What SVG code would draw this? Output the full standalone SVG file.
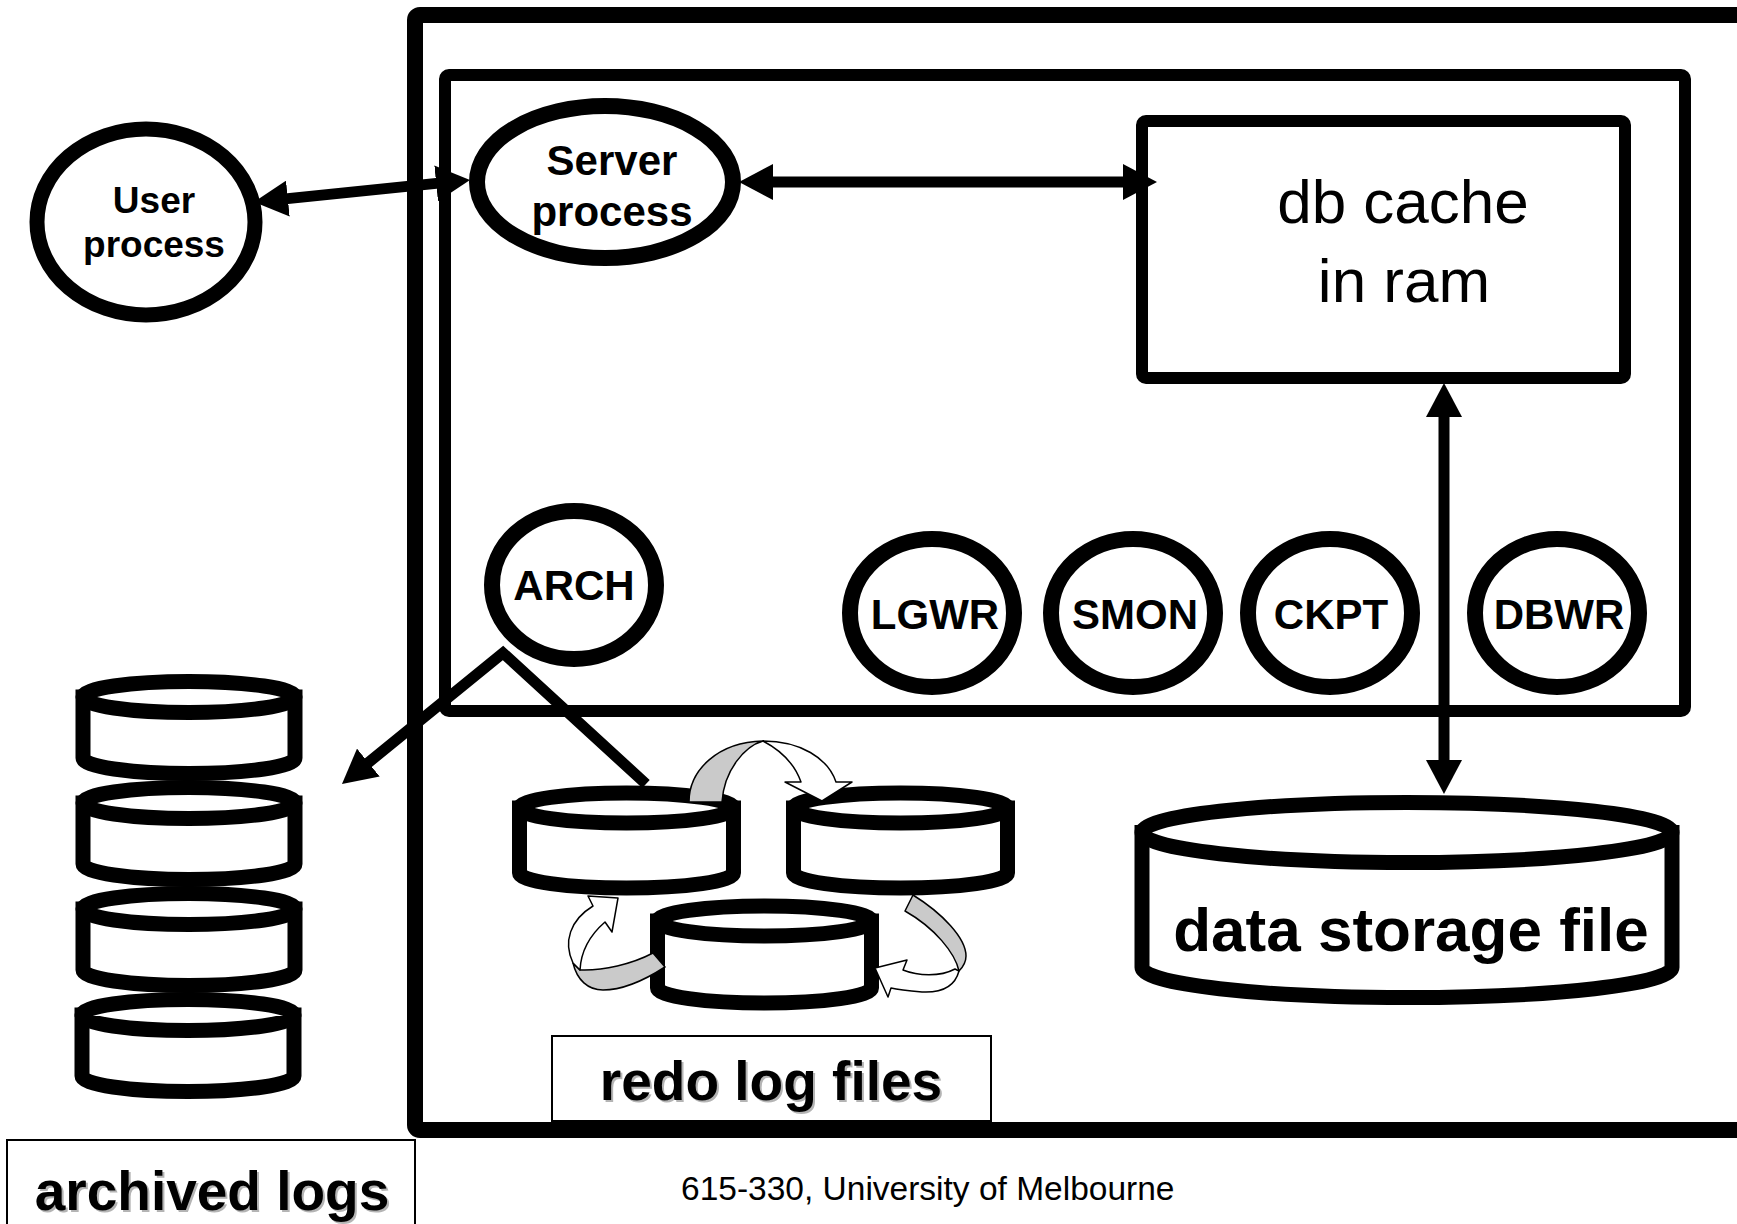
<svg xmlns="http://www.w3.org/2000/svg" width="1737" height="1224" viewBox="0 0 1737 1224">
<style>
.thick{fill:none;stroke:#000;stroke-linejoin:round}
.node{fill:#fff;stroke:#000}
.cyl{fill:#fff;stroke:#000;stroke-width:15}
.b{font-family:"Liberation Sans",Arial,sans-serif;font-weight:bold;text-anchor:middle;fill:#000}
.n{font-family:"Liberation Sans",Arial,sans-serif;text-anchor:middle;fill:#000}
.sh{fill:#b4b4b4}
.conn{fill:none;stroke:#000;stroke-width:11}
.gray{fill:#cacaca;stroke:#000;stroke-width:1.5;stroke-linejoin:round}
.white{fill:#fff;stroke:#000;stroke-width:1.5;stroke-linejoin:round}
</style>
<defs>
<marker id="ah" viewBox="0 0 34 36" refX="10" refY="18" markerWidth="34" markerHeight="36" markerUnits="userSpaceOnUse" orient="auto-start-reverse">
<path d="M0,0 L34,18 L0,36 Z" fill="#000"/>
</marker>
</defs>
<rect width="1737" height="1224" fill="#fff"/>

<g id="frames">
<rect x="415" y="15" width="1420" height="1115" rx="5" class="thick" stroke-width="16"/>
<rect x="445" y="75" width="1240" height="636" rx="4" class="thick" stroke-width="12"/>
</g>

<g id="user-process">
<ellipse cx="146" cy="222" rx="109" ry="93" class="node" stroke-width="15"/>
<text x="154" y="213" class="b" font-size="37">User</text>
<text x="154" y="257" class="b" font-size="37">process</text>
</g>

<g id="server-process">
<ellipse cx="605" cy="182" rx="128" ry="76" class="node" stroke-width="16"/>
<text x="612" y="175" class="b" font-size="42">Server</text>
<text x="612" y="226" class="b" font-size="42">process</text>
</g>

<g id="db-cache">
<rect x="1142" y="121" width="483" height="257" rx="4" class="node" stroke-width="12"/>
<text x="1403" y="223" class="n" font-size="62">db cache</text>
<text x="1404" y="302" class="n" font-size="62">in ram</text>
</g>

<g id="arch">
<ellipse cx="574" cy="585" rx="82" ry="74" class="node" stroke-width="16"/>
<text x="574" y="600" class="b" font-size="42">ARCH</text>
</g>
<g id="lgwr">
<ellipse cx="932" cy="613" rx="82" ry="74" class="node" stroke-width="16"/>
<text x="935" y="629" class="b" font-size="42">LGWR</text>
</g>
<g id="smon">
<ellipse cx="1133" cy="613" rx="82" ry="74" class="node" stroke-width="16"/>
<text x="1135" y="629" class="b" font-size="42">SMON</text>
</g>
<g id="ckpt">
<ellipse cx="1330" cy="613" rx="82" ry="74" class="node" stroke-width="16"/>
<text x="1331" y="629" class="b" font-size="42">CKPT</text>
</g>
<g id="dbwr">
<ellipse cx="1557" cy="613" rx="82" ry="74" class="node" stroke-width="16"/>
<text x="1559" y="629" class="b" font-size="42">DBWR</text>
</g>

<g id="connectors">
<line x1="277.9" y1="199.6" x2="446.1" y2="182.4" class="conn" marker-start="url(#ah)" marker-end="url(#ah)"/>
<line x1="763" y1="182" x2="1133" y2="182" class="conn" stroke-width="12" marker-start="url(#ah)" marker-end="url(#ah)"/>
<line x1="1444" y1="407" x2="1444" y2="770" class="conn" marker-start="url(#ah)" marker-end="url(#ah)"/>
<path d="M646,784 L503,653 L360.6,768.9" class="conn" stroke-width="10" stroke-linejoin="miter" marker-end="url(#ah)"/>
</g>

<g id="data-storage">
<path d="M1142,832.5 L1142,967.5 A265,30 0 0 0 1672,967.5 L1672,832.5 Z" class="cyl"/>
<ellipse cx="1407" cy="832.5" rx="265" ry="30" class="cyl"/>
<text x="1411" y="951" class="b" font-size="62">data storage file</text>
</g>

<g id="archived-stack">
<path d="M83,697 L83,758 A106,15.5 0 0 0 295,758 L295,697 Z" class="cyl"/>
<ellipse cx="189" cy="697" rx="106" ry="15.5" class="cyl"/>
<path d="M83,803 L83,864 A106,15.5 0 0 0 295,864 L295,803 Z" class="cyl"/>
<ellipse cx="189" cy="803" rx="106" ry="15.5" class="cyl"/>
<path d="M83,909 L83,970 A106,15.5 0 0 0 295,970 L295,909 Z" class="cyl"/>
<ellipse cx="189" cy="909" rx="106" ry="15.5" class="cyl"/>
<path d="M82,1015 L82,1076 A106,15.5 0 0 0 294,1076 L294,1015 Z" class="cyl"/>
<ellipse cx="188" cy="1015" rx="106" ry="15.5" class="cyl"/>
</g>

<g id="redo-logs">
<path d="M519.5,808 L519.5,873 A107,15 0 0 0 733.5,873 L733.5,808 Z" class="cyl"/>
<ellipse cx="626.5" cy="808" rx="107" ry="15" class="cyl"/>
<path d="M793.5,808 L793.5,873 A107,15 0 0 0 1007.5,873 L1007.5,808 Z" class="cyl"/>
<ellipse cx="900.5" cy="808" rx="107" ry="15" class="cyl"/>
<path d="M657.5,921 L657.5,988 A107,15 0 0 0 871.5,988 L871.5,921 Z" class="cyl"/>
<ellipse cx="764.5" cy="921" rx="107" ry="15" class="cyl"/>
<path d="M689,802 C689,770 718,742 763,741 C745,746 724,770 722,802 Z" class="gray"/>
<path d="M763,741 C800,741 828,758 836,782 L852,782 L822,801 L785,782 L801,782 C795,765 782,751 763,741 Z" class="white"/>
<path d="M653,953 C632,964 603,971 580,970 L573,963 C577,980 588,990 603,990 C625,990 648,978 665,967 Z" class="gray"/>
<path d="M573,963 C563,942 570,920 593,906 L588,896 L618,898 L612,932 L605,922 C590,935 581,950 580,970 Z" class="white"/>
<path d="M913,895 C942,913 966,938 966,956 C966,962 963,967 959,971 C955,953 935,928 905,911 Z" class="gray"/>
<path d="M959,971 C955,986 942,993 922,992 C910,991 899,990 891,988 L888,997 L875,968 L907,960 L903,970 C918,976 940,977 955,969 Z" class="white"/>
</g>

<g id="redo-label">
<rect x="552" y="1036" width="439" height="85" fill="#fff" stroke="#000" stroke-width="2"/>
<text x="773" y="1102" class="b sh" font-size="55">redo log files</text>
<text x="771" y="1100" class="b" font-size="55">redo log files</text>
</g>

<g id="archived-label">
<rect x="7" y="1140" width="408" height="100" fill="#fff" stroke="#000" stroke-width="2"/>
<text x="214" y="1212" class="b sh" font-size="55">archived logs</text>
<text x="212" y="1210" class="b" font-size="55">archived logs</text>
</g>

<text x="681" y="1200" font-family="'Liberation Sans',Arial,sans-serif" font-size="33.5" fill="#000">615-330, University of Melbourne</text>
</svg>
